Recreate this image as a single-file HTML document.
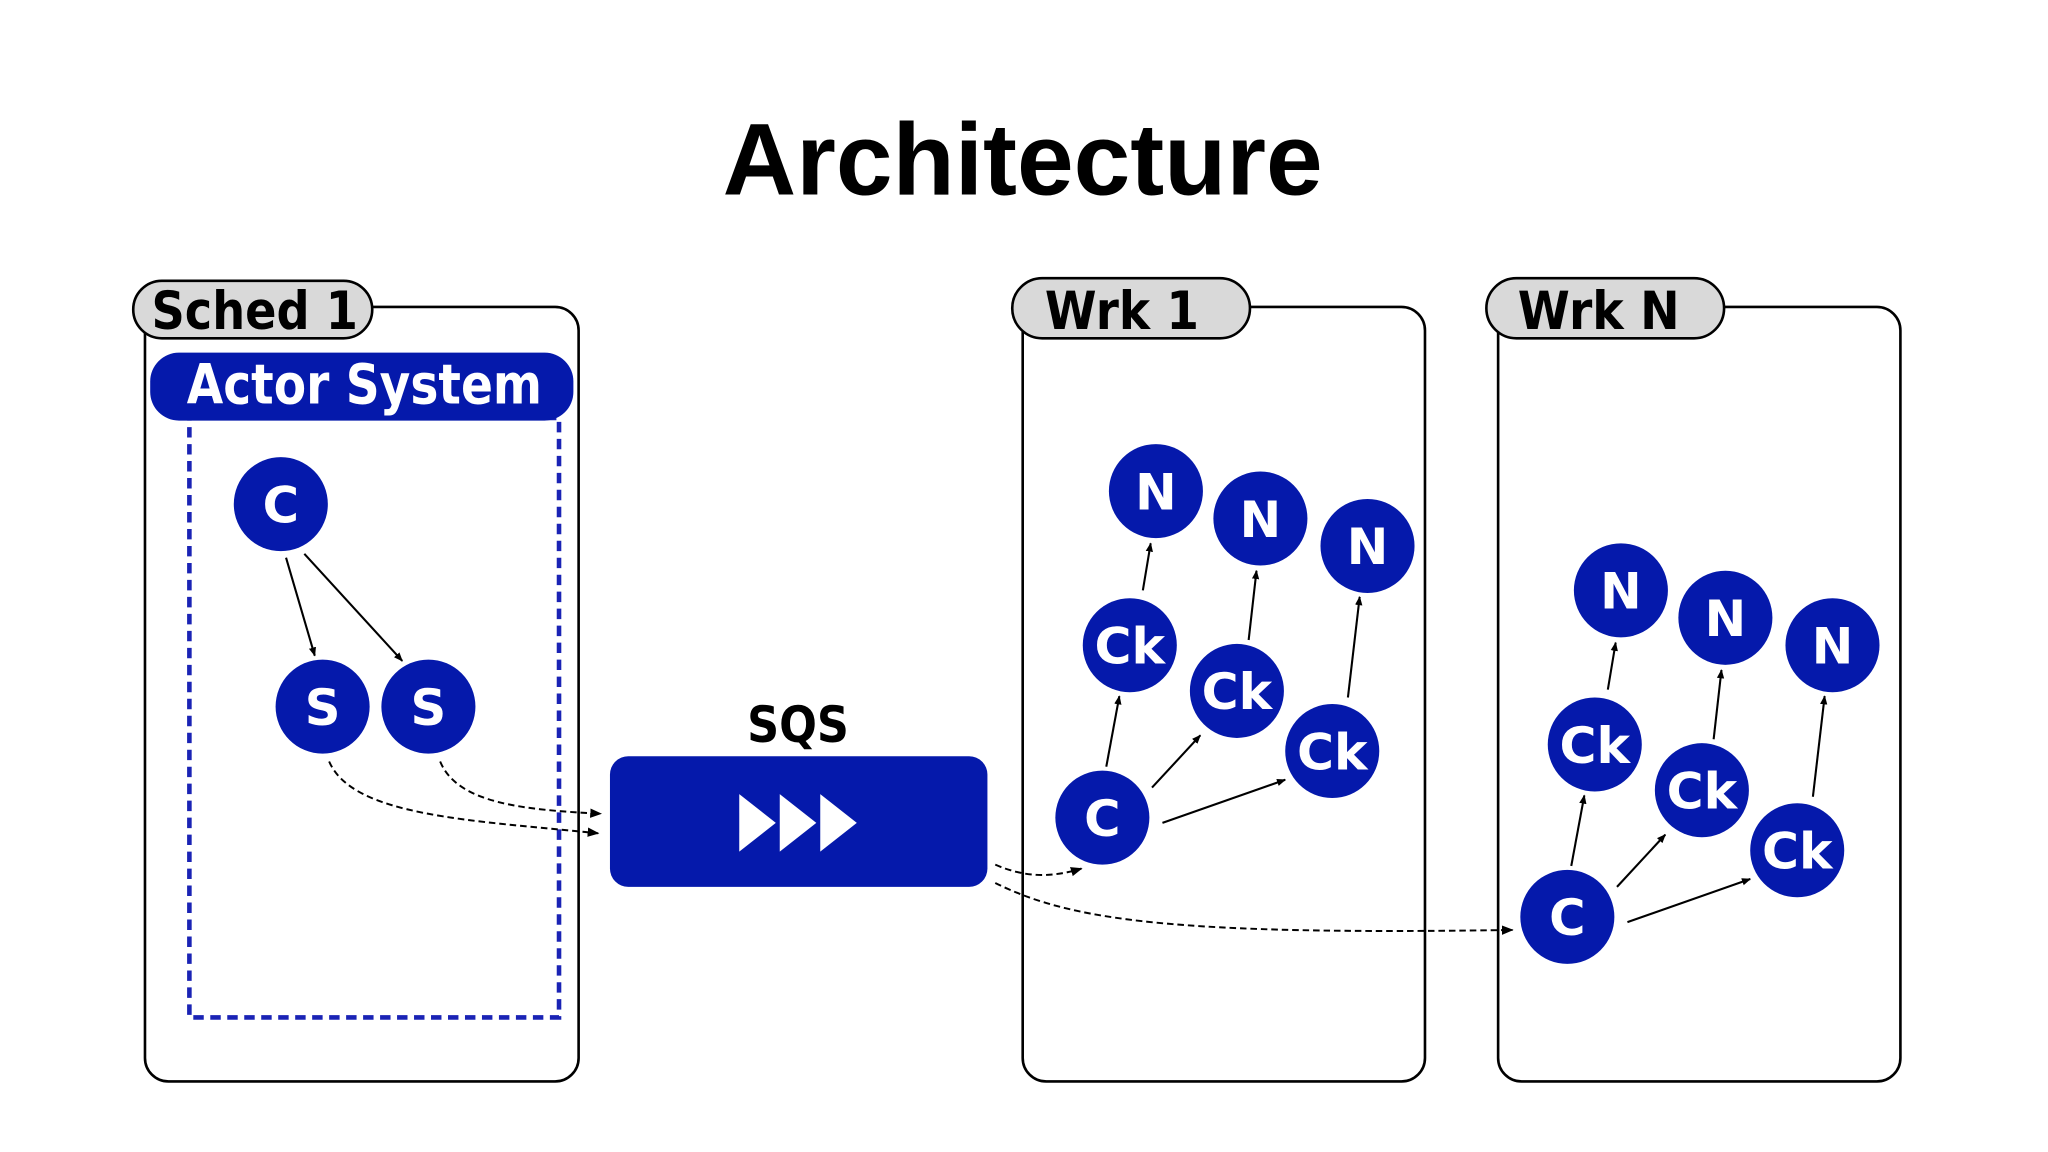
<!DOCTYPE html>
<html><head><meta charset="utf-8"><style>
html,body{margin:0;padding:0;background:#fff;}
svg{display:block;}
</style></head><body>
<svg width="2048" height="1152" viewBox="0 0 1568 882" xmlns="http://www.w3.org/2000/svg">
<defs>
<marker id="ah" viewBox="0 0 10 10" refX="9" refY="5" markerWidth="7" markerHeight="7" orient="auto" markerUnits="userSpaceOnUse">
<path d="M0,1 L10,5 L0,9 z" fill="#000"/>
</marker>
<marker id="ah2" viewBox="0 0 10 10" refX="9" refY="5" markerWidth="9" markerHeight="9" orient="auto" markerUnits="userSpaceOnUse">
<path d="M0,1 L10,5 L0,9 z" fill="#000"/>
</marker>
</defs>
<rect width="1568" height="882" fill="#fff"/>
<text x="783" y="149" text-anchor="middle" font-family="Liberation Sans, sans-serif" font-weight="bold" font-size="78">Architecture</text>

<rect x="111" y="235" width="332" height="593" rx="18" fill="#fff" stroke="#000" stroke-width="2"/>
<rect x="102" y="215" width="183" height="44" rx="22" fill="#d9d9d9" stroke="#000" stroke-width="2"/>
<text x="116" y="252" font-family="DejaVu Sans, sans-serif" font-weight="bold" font-size="40" textLength="158" lengthAdjust="spacingAndGlyphs">Sched 1</text>
<rect x="145" y="320" width="283" height="459" fill="none" stroke="#1a23b5" stroke-width="3.5" stroke-dasharray="8,5"/>
<rect x="115" y="270" width="324" height="52" rx="22" fill="#0519ab"/>
<text x="143" y="309" font-family="DejaVu Sans, sans-serif" font-weight="bold" font-size="42" fill="#fff" textLength="272" lengthAdjust="spacingAndGlyphs">Actor System</text>

<g fill="#0519ab">
<circle cx="215" cy="386" r="36"/>
<circle cx="247" cy="541" r="36"/>
<circle cx="328" cy="541" r="36"/>
</g>
<g font-family="DejaVu Sans, sans-serif" font-weight="bold" font-size="38" fill="#fff" text-anchor="middle">
<text x="215" y="400">C</text>
<text x="247" y="555">S</text>
<text x="328" y="555">S</text>
</g>
<g stroke="#000" stroke-width="1.6" fill="none" marker-end="url(#ah)">
<line x1="219" y1="427" x2="241" y2="502"/>
<line x1="233" y1="424" x2="308" y2="506"/>
</g>
<g stroke="#000" stroke-width="1.5" fill="none" stroke-dasharray="5,3" marker-end="url(#ah2)">
<path d="M252,583 C270,625 360,628 458,638"/>
<path d="M337,583 C350,615 400,620 460,623"/>
</g>

<text x="611" y="568" text-anchor="middle" font-family="DejaVu Sans, sans-serif" font-weight="bold" font-size="38" textLength="78" lengthAdjust="spacingAndGlyphs">SQS</text>
<rect x="467" y="579" width="289" height="100" rx="14" fill="#0519ab"/>
<g fill="#fff">
<path d="M566,608 L594,630 L566,652 z"/>
<path d="M597,608 L625,630 L597,652 z"/>
<path d="M628,608 L656,630 L628,652 z"/>
</g>
<g stroke="#000" stroke-width="1.5" fill="none" stroke-dasharray="5,3" marker-end="url(#ah2)">
<path d="M762,662 C785,672 805,672 828,665"/>
<path d="M762,676 C820,705 900,716 1158,712"/>
</g>

<rect x="783" y="235" width="308" height="593" rx="18" fill="none" stroke="#000" stroke-width="2"/>
<rect x="775" y="213" width="182" height="46" rx="23" fill="#d9d9d9" stroke="#000" stroke-width="2"/>
<text x="800" y="252" font-family="DejaVu Sans, sans-serif" font-weight="bold" font-size="40" textLength="118" lengthAdjust="spacingAndGlyphs">Wrk 1</text>
<rect x="1147" y="235" width="308" height="593" rx="18" fill="none" stroke="#000" stroke-width="2"/>
<rect x="1138" y="213" width="182" height="46" rx="23" fill="#d9d9d9" stroke="#000" stroke-width="2"/>
<text x="1162" y="252" font-family="DejaVu Sans, sans-serif" font-weight="bold" font-size="40" textLength="124" lengthAdjust="spacingAndGlyphs">Wrk N</text>

<g id="wg">
<g fill="#0519ab">
<circle cx="885" cy="376" r="36"/>
<circle cx="965" cy="397" r="36"/>
<circle cx="1047" cy="418" r="36"/>
<circle cx="865" cy="494" r="36"/>
<circle cx="947" cy="529" r="36"/>
<circle cx="1020" cy="575" r="36"/>
<circle cx="844" cy="626" r="36"/>
</g>
<g font-family="DejaVu Sans, sans-serif" font-weight="bold" font-size="38" fill="#fff" text-anchor="middle">
<text x="885" y="390">N</text>
<text x="965" y="411">N</text>
<text x="1047" y="432">N</text>
<text x="865" y="508" textLength="54" lengthAdjust="spacingAndGlyphs">Ck</text>
<text x="947" y="543" textLength="54" lengthAdjust="spacingAndGlyphs">Ck</text>
<text x="1020" y="589" textLength="54" lengthAdjust="spacingAndGlyphs">Ck</text>
<text x="844" y="640">C</text>
</g>
<g stroke="#000" stroke-width="1.6" fill="none" marker-end="url(#ah)">
<line x1="875" y1="452" x2="881" y2="416"/>
<line x1="956" y1="490" x2="962" y2="437"/>
<line x1="1032" y1="534" x2="1041" y2="457"/>
<line x1="847" y1="587" x2="857" y2="533"/>
<line x1="882" y1="603" x2="919" y2="563"/>
<line x1="890" y1="630" x2="984" y2="597"/>
</g>
</g>
<use href="#wg" transform="translate(356,76)"/>
</svg>
</body></html>
